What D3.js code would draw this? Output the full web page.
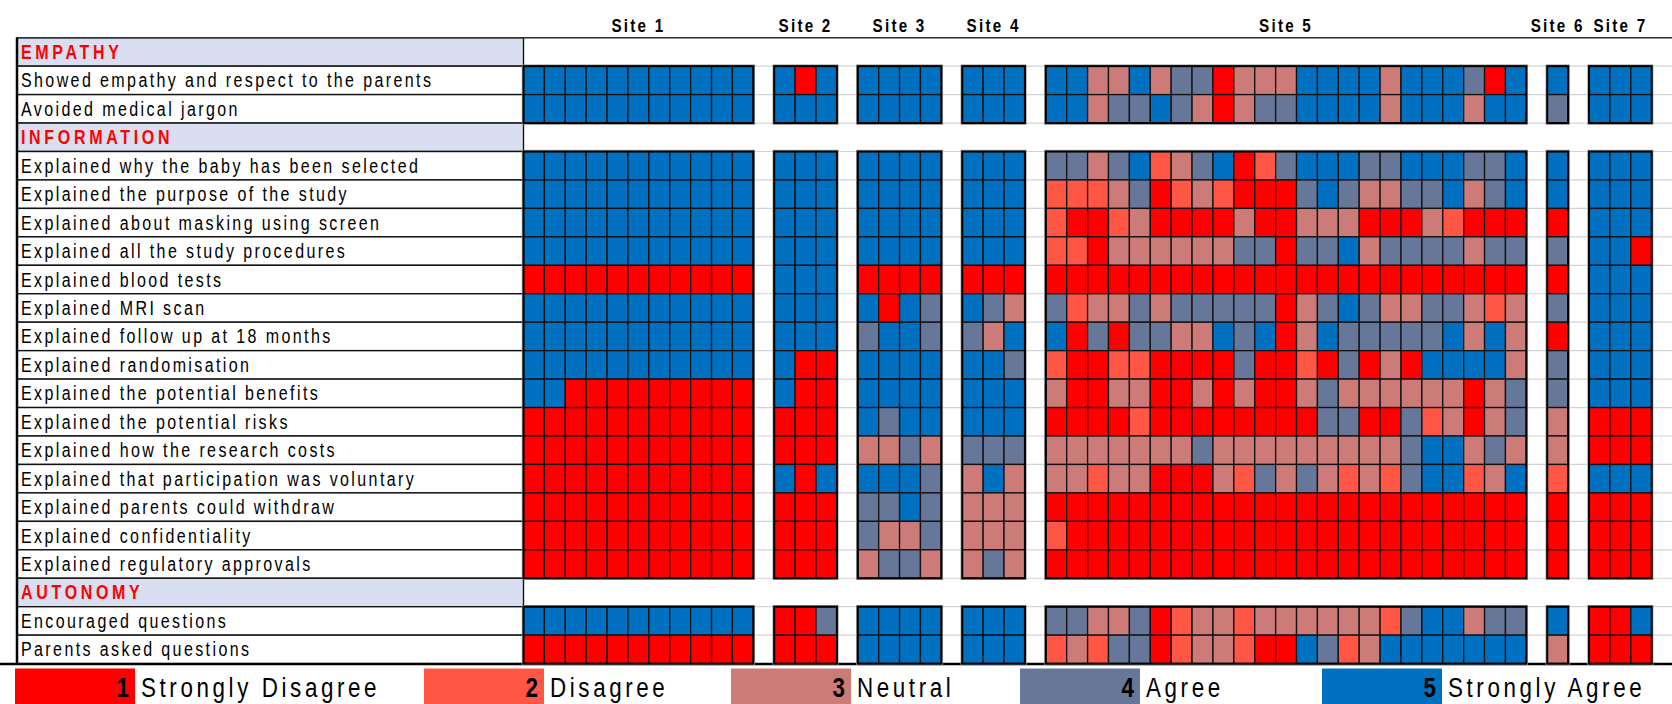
<!DOCTYPE html>
<html><head><meta charset="utf-8">
<script src="https://cdn.jsdelivr.net/npm/d3@7"></script>
<style>
body{margin:0;background:#fff;}
svg{display:block;}
text{font-family:"Liberation Sans",Arial,sans-serif;}
</style>
</head><body>
<svg id="chart" width="1672" height="704"></svg>
<script>
// ---------------- DATA ----------------
const sites = ["Site 1","Site 2","Site 3","Site 4","Site 5","Site 6","Site 7"];
const sections = ["EMPATHY","INFORMATION","AUTONOMY"];
const empathyItems = ["Showed empathy and respect to the parents","Avoided medical jargon"];
const informationItems = ["Explained why the baby has been selected","Explained the purpose of the study",
  "Explained about masking using screen","Explained all the study procedures","Explained blood tests",
  "Explained MRI scan","Explained follow up at 18 months","Explained randomisation",
  "Explained the potential benefits","Explained the potential risks","Explained how the research costs",
  "Explained that participation was voluntary","Explained parents could withdraw",
  "Explained confidentiality","Explained regulatory approvals"];
const autonomyItems = ["Encouraged questions","Parents asked questions"];
const scores = [1,2,3,4,5];
const scoreLabels = ["Strongly Disagree","Disagree","Neutral","Agree","Strongly Agree"];

// ratings: one row per item (19 items), one value per respondent
const site1 = [
 [5,5,5,5,5,5,5,5,5,5,5],[5,5,5,5,5,5,5,5,5,5,5],
 [5,5,5,5,5,5,5,5,5,5,5],[5,5,5,5,5,5,5,5,5,5,5],[5,5,5,5,5,5,5,5,5,5,5],[5,5,5,5,5,5,5,5,5,5,5],
 [1,1,1,1,1,1,1,1,1,1,1],[5,5,5,5,5,5,5,5,5,5,5],[5,5,5,5,5,5,5,5,5,5,5],[5,5,5,5,5,5,5,5,5,5,5],
 [5,5,1,1,1,1,1,1,1,1,1],[1,1,1,1,1,1,1,1,1,1,1],[1,1,1,1,1,1,1,1,1,1,1],[1,1,1,1,1,1,1,1,1,1,1],
 [1,1,1,1,1,1,1,1,1,1,1],[1,1,1,1,1,1,1,1,1,1,1],[1,1,1,1,1,1,1,1,1,1,1],
 [5,5,5,5,5,5,5,5,5,5,5],[1,1,1,1,1,1,1,1,1,1,1]];
const site2 = [
 [5,1,5],[5,5,5],
 [5,5,5],[5,5,5],[5,5,5],[5,5,5],[5,5,5],[5,5,5],[5,5,5],[5,1,1],[5,1,1],[1,1,1],[1,1,1],[5,1,5],[1,1,1],[1,1,1],[1,1,1],
 [1,1,4],[1,1,1]];
const site3 = [
 [5,5,5,5],[5,5,5,5],
 [5,5,5,5],[5,5,5,5],[5,5,5,5],[5,5,5,5],[1,1,1,1],[5,1,5,4],[4,5,5,4],[5,5,5,5],[5,5,5,5],
 [5,4,5,5],[3,3,4,3],[5,5,5,4],[4,4,5,4],[4,3,3,4],[3,4,4,3],
 [5,5,5,5],[5,5,5,5]];
const site4 = [
 [5,5,5],[5,5,5],
 [5,5,5],[5,5,5],[5,5,5],[5,5,5],[1,1,1],[5,4,3],[4,3,5],[5,5,4],[5,5,5],[5,5,5],[4,4,4],[3,5,3],[3,3,3],[3,3,3],[3,4,3],
 [5,5,5],[5,5,5]];
const site5 = [
 [5,5,3,3,5,3,4,4,1,3,3,3,5,5,5,5,3,5,5,5,4,1,5],
 [5,5,3,4,4,5,4,3,1,3,4,4,5,5,5,5,3,5,5,5,3,5,5],
 [4,4,3,4,5,2,3,4,5,1,2,4,5,5,5,4,4,5,5,5,4,4,5],
 [2,2,2,3,4,1,2,3,2,1,1,1,4,5,4,3,3,4,4,5,3,4,5],
 [2,1,1,2,3,1,1,1,1,3,1,1,3,3,3,1,1,1,3,2,1,1,1],
 [2,2,1,3,3,3,3,3,3,4,4,1,4,4,5,3,4,4,4,4,3,4,4],
 [1,1,1,1,1,1,1,1,1,1,1,1,1,1,1,1,1,1,1,1,1,1,1],
 [4,2,3,3,4,3,4,4,4,4,4,1,3,4,5,4,3,3,4,4,3,2,3],
 [5,1,4,1,4,4,3,3,5,4,5,1,3,5,4,4,4,4,4,5,3,5,3],
 [2,1,1,2,2,1,1,1,1,4,1,1,2,1,4,1,3,1,5,5,5,5,3],
 [3,1,1,3,3,1,1,3,1,3,1,1,3,4,3,3,3,3,3,3,1,3,4],
 [1,1,1,1,2,1,1,1,1,1,1,1,1,4,4,1,1,4,2,3,1,3,4],
 [3,3,3,3,3,3,3,4,3,3,3,3,3,3,3,3,3,4,5,5,3,4,3],
 [3,3,2,3,3,1,1,1,3,2,4,3,4,3,2,3,2,4,5,5,2,3,5],
 [1,1,1,1,1,1,1,1,1,1,1,1,1,1,1,1,1,1,1,1,1,1,1],
 [2,1,1,1,1,1,1,1,1,1,1,1,1,1,1,1,1,1,1,1,1,1,1],
 [1,1,1,1,1,1,1,1,1,1,1,1,1,1,1,1,1,1,1,1,1,1,1],
 [4,4,3,3,4,1,2,3,3,2,3,3,3,3,3,3,2,4,5,5,3,4,4],
 [2,3,2,4,4,1,2,3,3,2,1,1,5,4,2,3,5,5,5,5,5,5,5]];
const site6 = [[5],[4],[5],[5],[1],[4],[1],[4],[1],[4],[4],[3],[3],[2],[1],[1],[1],[5],[3]];
const site7 = [
 [5,5,5],[5,5,5],
 [5,5,5],[5,5,5],[5,5,5],[5,5,1],[5,5,5],[5,5,5],[5,5,5],[5,5,5],[5,5,5],[1,1,1],[1,1,1],[5,5,5],[1,1,1],[1,1,1],[1,1,1],
 [1,1,5],[1,1,1]];
const siteData = [site1,site2,site3,site4,site5,site6,site7];
const scoreColors = ["#FF0000","#FF5646","#CD7B78","#667799","#0070C0"];

// ---------------- LAYOUT ----------------
const W = 1672, H = 704;
const svg = d3.select("#chart");
const labelX0 = 17, gridX0 = 523.5, gridX1 = 1651.7, gridY0 = 37.7, gridY1 = 663.6;
const NARROW = 0.8; // horizontal glyph compression, mimicking the original narrow font

const sectionItems = [empathyItems, informationItems, autonomyItems];
const rows = [];
let itemIdx = 0;
sectionItems.forEach((items, s) => {
  rows.push({key: "h" + s, header: true, label: sections[s], section: s});
  items.forEach(it => { rows.push({key: "i" + itemIdx, header: false, label: it, section: s, idx: itemIdx}); itemIdx++; });
});
const y = d3.scaleBand().domain(rows.map(r => r.key)).range([gridY0, gridY1]);

const colKeys = [];
siteData.forEach((sd, s) => {
  if (s > 0) colKeys.push("gap" + s);
  sd[0].forEach((_, j) => colKeys.push(s + "-" + j));
});
const x = d3.scaleBand().domain(colKeys).range([gridX0, gridX1]);
const color = d3.scaleOrdinal().domain(scores).range(scoreColors);

// light grid lines at row boundaries
const bounds = rows.map(r => y(r.key)).concat([gridY1]);
svg.append("g").selectAll("line").data(bounds).join("line")
  .attr("x1", gridX0).attr("x2", W).attr("y1", d => d).attr("y2", d => d)
  .attr("stroke", "#d4d4d4").attr("stroke-width", 1.2);

// label column
const lab = svg.append("g");
lab.selectAll("rect").data(rows).join("rect")
  .attr("x", labelX0).attr("y", r => y(r.key)).attr("width", gridX0 - labelX0).attr("height", y.bandwidth())
  .attr("fill", r => r.header ? "#D9DFF1" : "#fff")
  .attr("stroke", "#111").attr("stroke-width", 1.4);
lab.selectAll("text").data(rows).join("text")
  .attr("transform", r => `translate(21,${y(r.key) + y.bandwidth() / 2 + 7}) scale(${NARROW},1)`)
  .attr("font-size", 20)
  .attr("letter-spacing", r => r.header ? 4.6 : 3)
  .attr("font-weight", r => r.header ? "bold" : "normal")
  .attr("fill", r => r.header ? "#FF0000" : "#000")
  .text(r => r.label);

// top and bottom rules
svg.append("line").attr("x1", labelX0).attr("x2", W).attr("y1", gridY0).attr("y2", gridY0)
  .attr("stroke", "#333").attr("stroke-width", 1.6);
svg.append("line").attr("x1", 0).attr("x2", W).attr("y1", gridY1 + 0.5).attr("y2", gridY1 + 0.5)
  .attr("stroke", "#000").attr("stroke-width", 2.5);
svg.append("line").attr("x1", labelX0).attr("x2", labelX0).attr("y1", gridY0).attr("y2", gridY1)
  .attr("stroke", "#000").attr("stroke-width", 2.5);

// cells
const itemRows = rows.filter(r => !r.header);
const cells = [];
siteData.forEach((sd, s) => sd.forEach((row, i) => row.forEach((v, j) =>
  cells.push({site: s, item: i, col: j, v: v}))));
svg.append("g").selectAll("rect").data(cells).join("rect")
  .attr("x", d => x(d.site + "-" + d.col)).attr("y", d => y("i" + d.item))
  .attr("width", x.bandwidth()).attr("height", y.bandwidth())
  .attr("fill", d => color(d.v)).attr("stroke", "#111").attr("stroke-width", 1.3);

// block outlines (site x section)
const blocks = [];
siteData.forEach((sd, s) => sectionItems.forEach((items, k) => {
  const secRows = itemRows.filter(r => r.section === k);
  blocks.push({site: s, n: sd[0].length, first: secRows[0].key, last: secRows[secRows.length - 1].key});
}));
const bg = svg.append("g");
bg.selectAll("rect.halo").data(blocks).join("rect").attr("class", "halo")
  .attr("x", b => x(b.site + "-0") - 1.2).attr("y", b => y(b.first) - 1.2)
  .attr("width", b => x.bandwidth() * b.n + 2.4).attr("height", b => y(b.last) + y.bandwidth() - y(b.first) + 2.4)
  .attr("fill", "none").attr("stroke", "#9a9a9a").attr("stroke-width", 1);
bg.selectAll("rect.out").data(blocks).join("rect").attr("class", "out")
  .attr("x", b => x(b.site + "-0")).attr("y", b => y(b.first))
  .attr("width", b => x.bandwidth() * b.n).attr("height", b => y(b.last) + y.bandwidth() - y(b.first))
  .attr("fill", "none").attr("stroke", "#000").attr("stroke-width", 2);

// site labels
svg.append("g").selectAll("text").data(sites).join("text")
  .attr("transform", (s, i) => `translate(${x(i + "-0") + x.bandwidth() * siteData[i][0].length / 2},32) scale(${NARROW},1)`)
  .attr("text-anchor", "middle")
  .attr("font-size", 19).attr("font-weight", "bold").attr("letter-spacing", 2.8)
  .text(s => s);

// legend
const legendX = d3.scaleOrdinal().domain(scores).range([15, 424, 731, 1020, 1322]);
const boxW = 120, boxY = 668.5, boxH = 35.5;
const lg = svg.append("g").selectAll("g").data(scores).join("g");
lg.append("rect").attr("x", d => legendX(d)).attr("y", boxY).attr("width", boxW).attr("height", boxH)
  .attr("fill", d => color(d));
lg.append("text")
  .attr("transform", d => `translate(${legendX(d) + boxW - 6},${boxY + 28}) scale(${NARROW},1)`)
  .attr("text-anchor", "end")
  .attr("font-size", 28).attr("font-weight", "bold").text(d => d);
lg.append("text")
  .attr("transform", d => `translate(${legendX(d) + boxW + 6},${boxY + 28}) scale(${NARROW},1)`)
  .attr("font-size", 28).attr("letter-spacing", 4.5).text((d, i) => scoreLabels[i]);
</script>
</body></html>
